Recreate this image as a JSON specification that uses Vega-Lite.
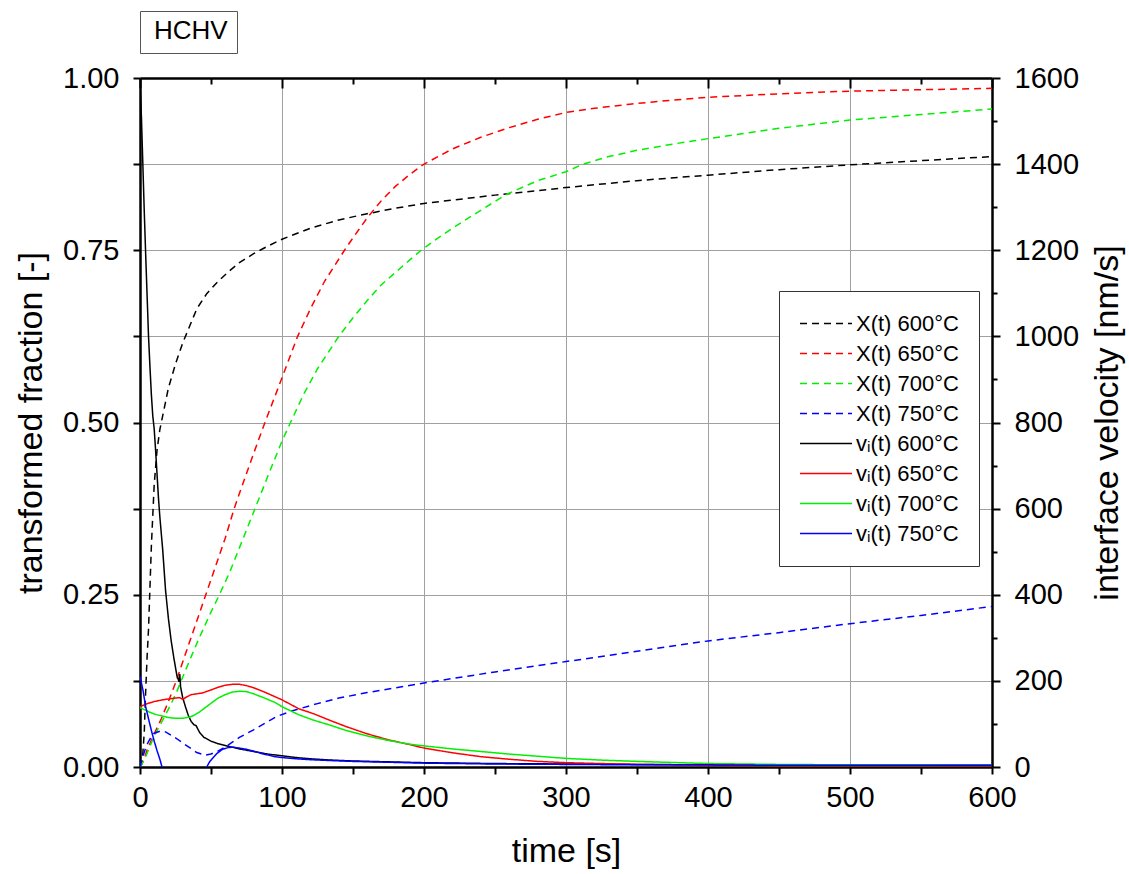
{
"$schema": "https://vega.github.io/schema/vega-lite/v6.json",
"width": 852, "height": 689,
"autosize": {"type": "none"},
"padding": {"left": 140, "top": 78, "right": 137, "bottom": 107},
"background": "white",
"config": {"view": {"stroke": null}, "font": "Liberation Sans"},
"datasets": {
"X": [
{"s":"X(t) 600°C","t":0,"f":0},{"s":"X(t) 600°C","t":1.5,"f":0.005},{"s":"X(t) 600°C","t":3,"f":0.05},{"s":"X(t) 600°C","t":4,"f":0.11},{"s":"X(t) 600°C","t":5,"f":0.16},{"s":"X(t) 600°C","t":6,"f":0.2},{"s":"X(t) 600°C","t":7,"f":0.26},{"s":"X(t) 600°C","t":8,"f":0.32},{"s":"X(t) 600°C","t":9,"f":0.365},{"s":"X(t) 600°C","t":10,"f":0.41},{"s":"X(t) 600°C","t":12,"f":0.46},{"s":"X(t) 600°C","t":14,"f":0.49},{"s":"X(t) 600°C","t":16,"f":0.51},{"s":"X(t) 600°C","t":18,"f":0.53},{"s":"X(t) 600°C","t":20,"f":0.55},{"s":"X(t) 600°C","t":25,"f":0.585},{"s":"X(t) 600°C","t":30,"f":0.615},{"s":"X(t) 600°C","t":35,"f":0.64},{"s":"X(t) 600°C","t":40,"f":0.665},{"s":"X(t) 600°C","t":47,"f":0.687},{"s":"X(t) 600°C","t":55,"f":0.705},{"s":"X(t) 600°C","t":63,"f":0.72},{"s":"X(t) 600°C","t":70,"f":0.732},{"s":"X(t) 600°C","t":80,"f":0.745},{"s":"X(t) 600°C","t":90,"f":0.756},{"s":"X(t) 600°C","t":100,"f":0.766},{"s":"X(t) 600°C","t":120,"f":0.782},{"s":"X(t) 600°C","t":140,"f":0.794},{"s":"X(t) 600°C","t":160,"f":0.803},{"s":"X(t) 600°C","t":180,"f":0.811},{"s":"X(t) 600°C","t":200,"f":0.818},{"s":"X(t) 600°C","t":250,"f":0.83},{"s":"X(t) 600°C","t":300,"f":0.841},{"s":"X(t) 600°C","t":350,"f":0.851},{"s":"X(t) 600°C","t":400,"f":0.859},{"s":"X(t) 600°C","t":450,"f":0.867},{"s":"X(t) 600°C","t":500,"f":0.874},{"s":"X(t) 600°C","t":550,"f":0.88},{"s":"X(t) 600°C","t":600,"f":0.886},
{"s":"X(t) 650°C","t":0,"f":0},{"s":"X(t) 650°C","t":3,"f":0.012},{"s":"X(t) 650°C","t":5,"f":0.025},{"s":"X(t) 650°C","t":10,"f":0.048},{"s":"X(t) 650°C","t":15,"f":0.07},{"s":"X(t) 650°C","t":20,"f":0.095},{"s":"X(t) 650°C","t":25,"f":0.122},{"s":"X(t) 650°C","t":30,"f":0.152},{"s":"X(t) 650°C","t":35,"f":0.182},{"s":"X(t) 650°C","t":40,"f":0.212},{"s":"X(t) 650°C","t":50,"f":0.272},{"s":"X(t) 650°C","t":60,"f":0.332},{"s":"X(t) 650°C","t":66,"f":0.373},{"s":"X(t) 650°C","t":70,"f":0.397},{"s":"X(t) 650°C","t":80,"f":0.455},{"s":"X(t) 650°C","t":88,"f":0.5},{"s":"X(t) 650°C","t":100,"f":0.565},{"s":"X(t) 650°C","t":111,"f":0.625},{"s":"X(t) 650°C","t":120,"f":0.665},{"s":"X(t) 650°C","t":130,"f":0.705},{"s":"X(t) 650°C","t":144,"f":0.75},{"s":"X(t) 650°C","t":150,"f":0.768},{"s":"X(t) 650°C","t":160,"f":0.797},{"s":"X(t) 650°C","t":170,"f":0.822},{"s":"X(t) 650°C","t":180,"f":0.843},{"s":"X(t) 650°C","t":190,"f":0.86},{"s":"X(t) 650°C","t":200,"f":0.875},{"s":"X(t) 650°C","t":220,"f":0.897},{"s":"X(t) 650°C","t":240,"f":0.914},{"s":"X(t) 650°C","t":260,"f":0.928},{"s":"X(t) 650°C","t":280,"f":0.94},{"s":"X(t) 650°C","t":300,"f":0.95},{"s":"X(t) 650°C","t":320,"f":0.956},{"s":"X(t) 650°C","t":345,"f":0.962},{"s":"X(t) 650°C","t":370,"f":0.967},{"s":"X(t) 650°C","t":400,"f":0.972},{"s":"X(t) 650°C","t":450,"f":0.977},{"s":"X(t) 650°C","t":500,"f":0.981},{"s":"X(t) 650°C","t":550,"f":0.983},{"s":"X(t) 650°C","t":600,"f":0.985},
{"s":"X(t) 700°C","t":0,"f":0},{"s":"X(t) 700°C","t":3,"f":0.01},{"s":"X(t) 700°C","t":5,"f":0.02},{"s":"X(t) 700°C","t":10,"f":0.045},{"s":"X(t) 700°C","t":15,"f":0.064},{"s":"X(t) 700°C","t":20,"f":0.084},{"s":"X(t) 700°C","t":25,"f":0.105},{"s":"X(t) 700°C","t":30,"f":0.13},{"s":"X(t) 700°C","t":35,"f":0.155},{"s":"X(t) 700°C","t":41,"f":0.184},{"s":"X(t) 700°C","t":50,"f":0.225},{"s":"X(t) 700°C","t":55,"f":0.246},{"s":"X(t) 700°C","t":63,"f":0.282},{"s":"X(t) 700°C","t":70,"f":0.318},{"s":"X(t) 700°C","t":81,"f":0.375},{"s":"X(t) 700°C","t":90,"f":0.422},{"s":"X(t) 700°C","t":100,"f":0.473},{"s":"X(t) 700°C","t":106,"f":0.5},{"s":"X(t) 700°C","t":115,"f":0.54},{"s":"X(t) 700°C","t":125,"f":0.578},{"s":"X(t) 700°C","t":140,"f":0.625},{"s":"X(t) 700°C","t":150,"f":0.652},{"s":"X(t) 700°C","t":160,"f":0.677},{"s":"X(t) 700°C","t":170,"f":0.7},{"s":"X(t) 700°C","t":180,"f":0.718},{"s":"X(t) 700°C","t":190,"f":0.736},{"s":"X(t) 700°C","t":198,"f":0.75},{"s":"X(t) 700°C","t":210,"f":0.768},{"s":"X(t) 700°C","t":220,"f":0.782},{"s":"X(t) 700°C","t":240,"f":0.808},{"s":"X(t) 700°C","t":258,"f":0.831},{"s":"X(t) 700°C","t":280,"f":0.851},{"s":"X(t) 700°C","t":300,"f":0.864},{"s":"X(t) 700°C","t":312,"f":0.875},{"s":"X(t) 700°C","t":330,"f":0.886},{"s":"X(t) 700°C","t":350,"f":0.895},{"s":"X(t) 700°C","t":375,"f":0.904},{"s":"X(t) 700°C","t":400,"f":0.912},{"s":"X(t) 700°C","t":450,"f":0.927},{"s":"X(t) 700°C","t":500,"f":0.939},{"s":"X(t) 700°C","t":550,"f":0.947},{"s":"X(t) 700°C","t":600,"f":0.955},
{"s":"X(t) 750°C","t":0,"f":0},{"s":"X(t) 750°C","t":2,"f":0.015},{"s":"X(t) 750°C","t":4,"f":0.028},{"s":"X(t) 750°C","t":6,"f":0.037},{"s":"X(t) 750°C","t":8,"f":0.044},{"s":"X(t) 750°C","t":10,"f":0.049},{"s":"X(t) 750°C","t":14,"f":0.052},{"s":"X(t) 750°C","t":18,"f":0.051},{"s":"X(t) 750°C","t":22,"f":0.046},{"s":"X(t) 750°C","t":26,"f":0.041},{"s":"X(t) 750°C","t":30,"f":0.035},{"s":"X(t) 750°C","t":35,"f":0.028},{"s":"X(t) 750°C","t":40,"f":0.021},{"s":"X(t) 750°C","t":46,"f":0.017},{"s":"X(t) 750°C","t":50,"f":0.019},{"s":"X(t) 750°C","t":54,"f":0.022},{"s":"X(t) 750°C","t":60,"f":0.029},{"s":"X(t) 750°C","t":65,"f":0.036},{"s":"X(t) 750°C","t":70,"f":0.043},{"s":"X(t) 750°C","t":80,"f":0.054},{"s":"X(t) 750°C","t":90,"f":0.066},{"s":"X(t) 750°C","t":96,"f":0.073},{"s":"X(t) 750°C","t":105,"f":0.08},{"s":"X(t) 750°C","t":113,"f":0.085},{"s":"X(t) 750°C","t":125,"f":0.092},{"s":"X(t) 750°C","t":140,"f":0.1},{"s":"X(t) 750°C","t":160,"f":0.108},{"s":"X(t) 750°C","t":180,"f":0.115},{"s":"X(t) 750°C","t":200,"f":0.122},{"s":"X(t) 750°C","t":250,"f":0.138},{"s":"X(t) 750°C","t":300,"f":0.153},{"s":"X(t) 750°C","t":350,"f":0.168},{"s":"X(t) 750°C","t":400,"f":0.183},{"s":"X(t) 750°C","t":450,"f":0.195},{"s":"X(t) 750°C","t":500,"f":0.208},{"s":"X(t) 750°C","t":550,"f":0.22},{"s":"X(t) 750°C","t":600,"f":0.233}
],
"V": [
{"s":"vᵢ(t) 600°C","t":0,"v":1590},{"s":"vᵢ(t) 600°C","t":1,"v":1510},{"s":"vᵢ(t) 600°C","t":2,"v":1400},{"s":"vᵢ(t) 600°C","t":3,"v":1290},{"s":"vᵢ(t) 600°C","t":4,"v":1190},{"s":"vᵢ(t) 600°C","t":5,"v":1095},{"s":"vᵢ(t) 600°C","t":6,"v":1000},{"s":"vᵢ(t) 600°C","t":7,"v":930},{"s":"vᵢ(t) 600°C","t":8,"v":865},{"s":"vᵢ(t) 600°C","t":9,"v":815},{"s":"vᵢ(t) 600°C","t":10,"v":785},{"s":"vᵢ(t) 600°C","t":11,"v":735},{"s":"vᵢ(t) 600°C","t":12,"v":680},{"s":"vᵢ(t) 600°C","t":13,"v":625},{"s":"vᵢ(t) 600°C","t":14,"v":580},{"s":"vᵢ(t) 600°C","t":16,"v":504},{"s":"vᵢ(t) 600°C","t":18,"v":410},{"s":"vᵢ(t) 600°C","t":20,"v":345},{"s":"vᵢ(t) 600°C","t":22,"v":292},{"s":"vᵢ(t) 600°C","t":24,"v":250},{"s":"vᵢ(t) 600°C","t":26,"v":212},{"s":"vᵢ(t) 600°C","t":27.5,"v":198},{"s":"vᵢ(t) 600°C","t":28,"v":216},{"s":"vᵢ(t) 600°C","t":28.6,"v":186},{"s":"vᵢ(t) 600°C","t":30,"v":162},{"s":"vᵢ(t) 600°C","t":32,"v":140},{"s":"vᵢ(t) 600°C","t":34,"v":120},{"s":"vᵢ(t) 600°C","t":36,"v":106},{"s":"vᵢ(t) 600°C","t":38,"v":98},{"s":"vᵢ(t) 600°C","t":39.5,"v":96},{"s":"vᵢ(t) 600°C","t":42,"v":80},{"s":"vᵢ(t) 600°C","t":45,"v":69},{"s":"vᵢ(t) 600°C","t":50,"v":60},{"s":"vᵢ(t) 600°C","t":55,"v":54},{"s":"vᵢ(t) 600°C","t":60,"v":50},{"s":"vᵢ(t) 600°C","t":65,"v":46},{"s":"vᵢ(t) 600°C","t":70,"v":42},{"s":"vᵢ(t) 600°C","t":80,"v":36},{"s":"vᵢ(t) 600°C","t":90,"v":30},{"s":"vᵢ(t) 600°C","t":100,"v":26},{"s":"vᵢ(t) 600°C","t":110,"v":22},{"s":"vᵢ(t) 600°C","t":120,"v":19},{"s":"vᵢ(t) 600°C","t":135,"v":16},{"s":"vᵢ(t) 600°C","t":150,"v":14},{"s":"vᵢ(t) 600°C","t":175,"v":12},{"s":"vᵢ(t) 600°C","t":200,"v":10},{"s":"vᵢ(t) 600°C","t":250,"v":8},{"s":"vᵢ(t) 600°C","t":300,"v":7},{"s":"vᵢ(t) 600°C","t":400,"v":5},{"s":"vᵢ(t) 600°C","t":500,"v":4},{"s":"vᵢ(t) 600°C","t":600,"v":4},
{"s":"vᵢ(t) 650°C","t":0,"v":140},{"s":"vᵢ(t) 650°C","t":5,"v":147},{"s":"vᵢ(t) 650°C","t":10,"v":152},{"s":"vᵢ(t) 650°C","t":16,"v":156},{"s":"vᵢ(t) 650°C","t":20,"v":158},{"s":"vᵢ(t) 650°C","t":25,"v":160},{"s":"vᵢ(t) 650°C","t":28,"v":161},{"s":"vᵢ(t) 650°C","t":30,"v":157},{"s":"vᵢ(t) 650°C","t":33,"v":163},{"s":"vᵢ(t) 650°C","t":36,"v":168},{"s":"vᵢ(t) 650°C","t":40,"v":170},{"s":"vᵢ(t) 650°C","t":44,"v":172},{"s":"vᵢ(t) 650°C","t":50,"v":179},{"s":"vᵢ(t) 650°C","t":55,"v":185},{"s":"vᵢ(t) 650°C","t":60,"v":190},{"s":"vᵢ(t) 650°C","t":65,"v":192},{"s":"vᵢ(t) 650°C","t":70,"v":192},{"s":"vᵢ(t) 650°C","t":75,"v":189},{"s":"vᵢ(t) 650°C","t":80,"v":184},{"s":"vᵢ(t) 650°C","t":87,"v":175},{"s":"vᵢ(t) 650°C","t":100,"v":156},{"s":"vᵢ(t) 650°C","t":112,"v":135},{"s":"vᵢ(t) 650°C","t":122,"v":124},{"s":"vᵢ(t) 650°C","t":134,"v":108},{"s":"vᵢ(t) 650°C","t":145,"v":94},{"s":"vᵢ(t) 650°C","t":160,"v":77},{"s":"vᵢ(t) 650°C","t":175,"v":63},{"s":"vᵢ(t) 650°C","t":190,"v":52},{"s":"vᵢ(t) 650°C","t":200,"v":44},{"s":"vᵢ(t) 650°C","t":220,"v":33},{"s":"vᵢ(t) 650°C","t":240,"v":24},{"s":"vᵢ(t) 650°C","t":260,"v":18},{"s":"vᵢ(t) 650°C","t":280,"v":13},{"s":"vᵢ(t) 650°C","t":300,"v":10},{"s":"vᵢ(t) 650°C","t":350,"v":6},{"s":"vᵢ(t) 650°C","t":400,"v":4},{"s":"vᵢ(t) 650°C","t":450,"v":3},{"s":"vᵢ(t) 650°C","t":500,"v":3},{"s":"vᵢ(t) 650°C","t":600,"v":3},
{"s":"vᵢ(t) 700°C","t":0,"v":138},{"s":"vᵢ(t) 700°C","t":5,"v":130},{"s":"vᵢ(t) 700°C","t":10,"v":123},{"s":"vᵢ(t) 700°C","t":16,"v":118},{"s":"vᵢ(t) 700°C","t":20,"v":115},{"s":"vᵢ(t) 700°C","t":25,"v":113},{"s":"vᵢ(t) 700°C","t":30,"v":113},{"s":"vᵢ(t) 700°C","t":35,"v":116},{"s":"vᵢ(t) 700°C","t":38,"v":120},{"s":"vᵢ(t) 700°C","t":42,"v":128},{"s":"vᵢ(t) 700°C","t":46,"v":138},{"s":"vᵢ(t) 700°C","t":50,"v":148},{"s":"vᵢ(t) 700°C","t":55,"v":160},{"s":"vᵢ(t) 700°C","t":60,"v":168},{"s":"vᵢ(t) 700°C","t":65,"v":174},{"s":"vᵢ(t) 700°C","t":70,"v":176},{"s":"vᵢ(t) 700°C","t":75,"v":175},{"s":"vᵢ(t) 700°C","t":80,"v":170},{"s":"vᵢ(t) 700°C","t":87,"v":161},{"s":"vᵢ(t) 700°C","t":95,"v":150},{"s":"vᵢ(t) 700°C","t":100,"v":140},{"s":"vᵢ(t) 700°C","t":112,"v":121},{"s":"vᵢ(t) 700°C","t":122,"v":109},{"s":"vᵢ(t) 700°C","t":134,"v":97},{"s":"vᵢ(t) 700°C","t":145,"v":85},{"s":"vᵢ(t) 700°C","t":160,"v":72},{"s":"vᵢ(t) 700°C","t":176,"v":61},{"s":"vᵢ(t) 700°C","t":190,"v":53},{"s":"vᵢ(t) 700°C","t":200,"v":49},{"s":"vᵢ(t) 700°C","t":220,"v":42},{"s":"vᵢ(t) 700°C","t":240,"v":36},{"s":"vᵢ(t) 700°C","t":260,"v":30},{"s":"vᵢ(t) 700°C","t":280,"v":25},{"s":"vᵢ(t) 700°C","t":300,"v":20},{"s":"vᵢ(t) 700°C","t":325,"v":16},{"s":"vᵢ(t) 700°C","t":350,"v":13},{"s":"vᵢ(t) 700°C","t":400,"v":8},{"s":"vᵢ(t) 700°C","t":450,"v":6},{"s":"vᵢ(t) 700°C","t":500,"v":5},{"s":"vᵢ(t) 700°C","t":600,"v":4},
{"s":"vᵢ(t) 750°C","g":"a","t":0,"v":210},{"s":"vᵢ(t) 750°C","g":"a","t":2,"v":180},{"s":"vᵢ(t) 750°C","g":"a","t":4,"v":140},{"s":"vᵢ(t) 750°C","g":"a","t":6,"v":112},{"s":"vᵢ(t) 750°C","g":"a","t":8,"v":85},{"s":"vᵢ(t) 750°C","g":"a","t":10,"v":60},{"s":"vᵢ(t) 750°C","g":"a","t":12,"v":38},{"s":"vᵢ(t) 750°C","g":"a","t":14,"v":18},{"s":"vᵢ(t) 750°C","g":"a","t":15.5,"v":0},
{"s":"vᵢ(t) 750°C","g":"b","t":47,"v":0},{"s":"vᵢ(t) 750°C","g":"b","t":49,"v":12},{"s":"vᵢ(t) 750°C","g":"b","t":51,"v":20},{"s":"vᵢ(t) 750°C","g":"b","t":54,"v":31},{"s":"vᵢ(t) 750°C","g":"b","t":58,"v":41},{"s":"vᵢ(t) 750°C","g":"b","t":62,"v":45},{"s":"vᵢ(t) 750°C","g":"b","t":65.5,"v":46},{"s":"vᵢ(t) 750°C","g":"b","t":70,"v":44},{"s":"vᵢ(t) 750°C","g":"b","t":75,"v":41},{"s":"vᵢ(t) 750°C","g":"b","t":80,"v":37},{"s":"vᵢ(t) 750°C","g":"b","t":86,"v":31},{"s":"vᵢ(t) 750°C","g":"b","t":95,"v":24},{"s":"vᵢ(t) 750°C","g":"b","t":100,"v":22},{"s":"vᵢ(t) 750°C","g":"b","t":110,"v":19},{"s":"vᵢ(t) 750°C","g":"b","t":120,"v":17},{"s":"vᵢ(t) 750°C","g":"b","t":134,"v":15},{"s":"vᵢ(t) 750°C","g":"b","t":150,"v":13},{"s":"vᵢ(t) 750°C","g":"b","t":175,"v":11},{"s":"vᵢ(t) 750°C","g":"b","t":200,"v":9},{"s":"vᵢ(t) 750°C","g":"b","t":250,"v":7},{"s":"vᵢ(t) 750°C","g":"b","t":300,"v":6},{"s":"vᵢ(t) 750°C","g":"b","t":350,"v":5},{"s":"vᵢ(t) 750°C","g":"b","t":400,"v":5},{"s":"vᵢ(t) 750°C","g":"b","t":450,"v":4},{"s":"vᵢ(t) 750°C","g":"b","t":500,"v":4},{"s":"vᵢ(t) 750°C","g":"b","t":550,"v":4},{"s":"vᵢ(t) 750°C","g":"b","t":600,"v":4}
],
"T": [{"tag": "HCHV"}]
},
"layer": [
{
"data": {"name": "X"},
"mark": {"type": "line", "strokeWidth": 1.5, "clip": true},
"encoding": {
"x": {"field": "t", "type": "quantitative", "scale": {"domain": [0, 600], "nice": false},
 "axis": {"orient": "bottom", "values": [0,50,100,150,200,250,300,350,400,450,500,550,600], "format": "d",
  "labelExpr": "datum.value % 100 === 0 ? datum.label : ''",
  "domainColor": "black", "domainWidth": 2.5, "tickColor": "black", "tickWidth": 2, "tickSize": 7,
  "grid": true, "gridColor": "#a0a0a0", "gridWidth": 1,
  "gridOpacity": {"condition": {"test": "datum.value % 100 === 0 && datum.value > 0 && datum.value < 600", "value": 1}, "value": 0},
  "labelFont": "Liberation Sans", "labelFontSize": 29, "labelColor": "black", "labelPadding": 9, "labelFlush": false,
  "title": "time [s]", "titleFont": "Liberation Sans", "titleFontSize": 34, "titleFontWeight": "normal", "titleColor": "black", "titlePadding": 22}},
"y": {"field": "f", "type": "quantitative", "scale": {"domain": [0, 1], "nice": false},
 "axis": {"orient": "left", "values": [0,0.125,0.25,0.375,0.5,0.625,0.75,0.875,1], "format": ".2f",
  "labelExpr": "(datum.value * 4) % 1 === 0 ? datum.label : ''",
  "domainColor": "black", "domainWidth": 2.5, "tickColor": "black", "tickWidth": 2, "tickSize": 7, "grid": false,
  "labelFont": "Liberation Sans", "labelFontSize": 29, "labelColor": "black", "labelPadding": 14, "labelFlush": false,
  "title": "transformed fraction [-]", "titleFont": "Liberation Sans", "titleFontSize": 34, "titleFontWeight": "normal", "titleColor": "black", "titlePadding": 14}},
"color": {"field": "s", "type": "nominal",
 "scale": {"domain": ["X(t) 600°C","X(t) 650°C","X(t) 700°C","X(t) 750°C","vᵢ(t) 600°C","vᵢ(t) 650°C","vᵢ(t) 700°C","vᵢ(t) 750°C"],
  "range": ["#000000","#ff0000","#00f000","#0000ff","#000000","#ff0000","#00f000","#0000ff"]},
 "legend": {"orient": "none", "legendX": 639, "legendY": 213, "title": null, "strokeColor": "#333333", "fillColor": "white", "padding": 20,
  "symbolType": "stroke", "symbolSize": 2700, "symbolStrokeWidth": 1.5, "clipHeight": 25, "rowPadding": 5,
  "labelFont": "Liberation Sans", "labelFontSize": 22, "labelColor": "black", "labelOffset": 3, "labelLimit": 300}},
"strokeDash": {"field": "s", "type": "nominal",
 "scale": {"domain": ["X(t) 600°C","X(t) 650°C","X(t) 700°C","X(t) 750°C","vᵢ(t) 600°C","vᵢ(t) 650°C","vᵢ(t) 700°C","vᵢ(t) 750°C"],
  "range": [[7,5],[7,5],[7,5],[7,5],[1,0],[1,0],[1,0],[1,0]]},
 "legend": {"orient": "none", "legendX": 639, "legendY": 213, "title": null, "strokeColor": "#333333", "fillColor": "white", "padding": 20,
  "symbolType": "stroke", "symbolSize": 2700, "symbolStrokeWidth": 1.5, "clipHeight": 25, "rowPadding": 5,
  "labelFont": "Liberation Sans", "labelFontSize": 22, "labelColor": "black", "labelOffset": 3, "labelLimit": 300}}
}
},
{
"data": {"name": "V"},
"mark": {"type": "line", "strokeWidth": 1.5, "clip": true},
"encoding": {
"x": {"field": "t", "type": "quantitative", "scale": {"domain": [0, 600], "nice": false},
 "axis": {"orient": "top", "values": [0,50,100,150,200,250,300,350,400,450,500,550,600], "labels": false, "grid": false,
  "domainColor": "black", "domainWidth": 2.5, "tickColor": "black", "tickWidth": 2,
  "tickSize": {"condition": {"test": "datum.value % 100 === 0", "value": -10}, "value": -6}, "title": null}},
"y": {"field": "v", "type": "quantitative", "scale": {"domain": [0, 1600], "nice": false},
 "axis": {"orient": "right", "values": [0,100,200,300,400,500,600,700,800,900,1000,1100,1200,1300,1400,1500,1600], "format": "d",
  "labelExpr": "datum.value % 200 === 0 ? datum.label : ''",
  "domainColor": "black", "domainWidth": 2.5, "tickColor": "black", "tickWidth": 2,
  "tickSize": {"condition": {"test": "datum.value % 200 === 0", "value": 8}, "value": 5},
  "grid": true, "gridColor": "#a0a0a0", "gridWidth": 1,
  "gridOpacity": {"condition": {"test": "datum.value % 200 === 0 && datum.value > 0 && datum.value < 1600", "value": 1}, "value": 0},
  "labelFont": "Liberation Sans", "labelFontSize": 29, "labelColor": "black", "labelPadding": 14, "labelFlush": false,
  "title": "interface velocity [nm/s]", "titleAngle": 270, "titleFont": "Liberation Sans", "titleFontSize": 34, "titleFontWeight": "normal", "titleColor": "black", "titlePadding": 46}},
"color": {"field": "s", "type": "nominal"},
"strokeDash": {"field": "s", "type": "nominal"},
"detail": {"field": "g", "type": "nominal"}
}
},
{
"data": {"name": "T"},
"mark": {"type": "point", "opacity": 0},
"encoding": {
"shape": {"field": "tag", "type": "nominal",
 "legend": {"orient": "none", "legendX": 0, "legendY": -67, "title": null, "strokeColor": "#555555", "fillColor": "white", "padding": 9,
  "symbolSize": 0, "symbolOpacity": 0, "symbolStrokeWidth": 0, "labelOffset": -21, "clipHeight": 22,
  "labelFont": "Liberation Sans", "labelFontSize": 26, "labelColor": "black"}}
}
}
],
"resolve": {"scale": {"y": "independent"}, "axis": {"x": "independent", "y": "independent"}}
}
